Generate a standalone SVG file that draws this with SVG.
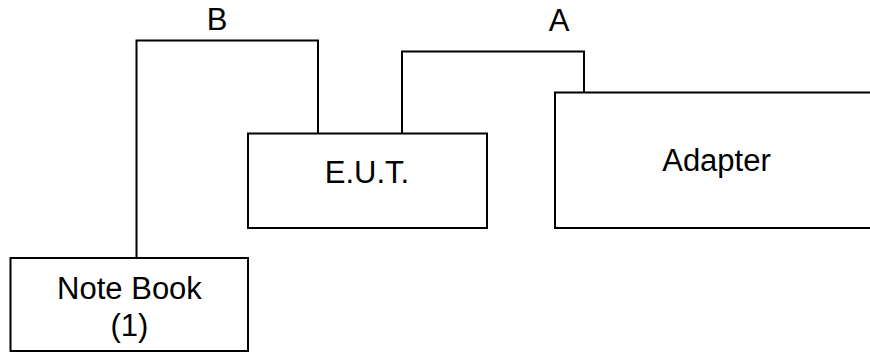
<svg xmlns="http://www.w3.org/2000/svg" width="870" height="352" viewBox="0 0 870 352">
<style>
.box{fill:#fff;stroke:#000;stroke-width:2}
.wire{fill:none;stroke:#000;stroke-width:2}
text{font-family:"Liberation Sans",Arial,sans-serif;font-size:31px;fill:#000;text-anchor:middle}
</style>
<rect width="870" height="352" fill="#fff"/>
<g id="connectors">
<path class="wire" d="M136.5 258 V40.5 H318 V133.5"/>
<path class="wire" d="M402 133.5 V51.5 H584 V92.5"/>
<text x="217" y="30">B</text>
<text x="559" y="31">A</text>
</g>
<g id="notebook">
<rect class="box" x="10.5" y="258" width="237.5" height="93"/>
<text x="129.5" y="299">Note Book</text>
<text x="129.5" y="336">(1)</text>
</g>
<g id="eut">
<rect class="box" x="248" y="133.5" width="239" height="94.5"/>
<text x="367" y="183">E.U.T.</text>
</g>
<g id="adapter">
<rect class="box" x="555" y="92.5" width="330" height="135.5"/>
<text x="716.5" y="171">Adapter</text>
</g>
</svg>
